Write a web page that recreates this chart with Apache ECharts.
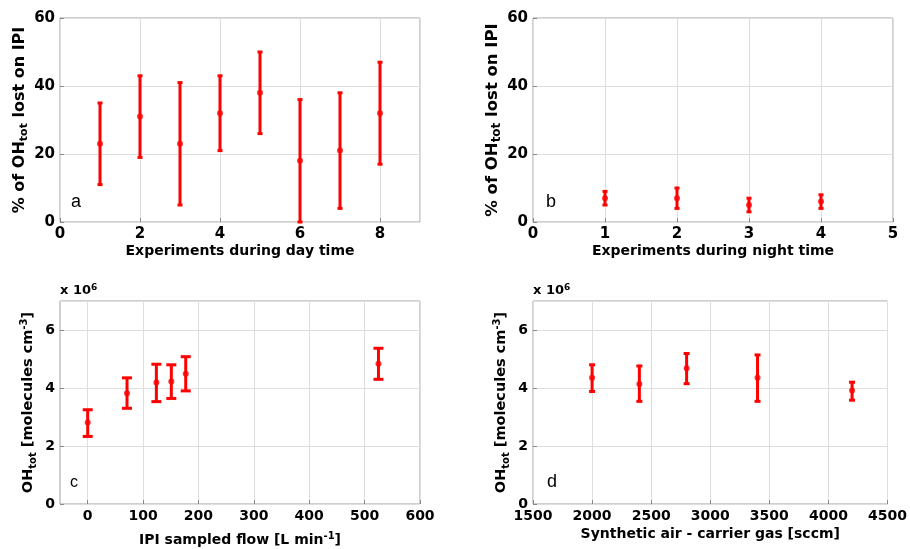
<!DOCTYPE html>
<html>
<head>
<meta charset="utf-8">
<script src="https://cdn.jsdelivr.net/npm/echarts@6/dist/echarts.min.js"></script>
<style>
  html, body { margin: 0; padding: 0; background: #fff; }
  #chart { width: 910px; height: 549px; }
</style>
</head>
<body>
<div id="chart"></div>
<script>
    'use strict';
    // panel a - day time experiments (% lost on IPI)
    var dayExp = [1, 2, 3, 4, 5, 6, 7, 8];
    var dayMean = [23, 31, 23, 32, 38, 18, 21, 32];
    var dayLow = [11, 19, 5, 21, 26, 0, 4, 17];
    var dayHigh = [35, 43, 41, 43, 50, 36, 38, 47];

    // panel b - night time experiments
    var nightExp = [1, 2, 3, 4];
    var nightMean = [7, 7, 5, 6];
    var nightLow = [5, 4, 3, 4];
    var nightHigh = [9, 10, 7, 8];

    // panel c - IPI sampled flow vs OHtot (x 10^6)
    var flowX = [0, 71, 124, 151, 177, 525];
    var flowMean = [2.81, 3.82, 4.19, 4.22, 4.49, 4.84];
    var flowLow = [2.33, 3.30, 3.53, 3.64, 3.90, 4.30];
    var flowHigh = [3.25, 4.35, 4.82, 4.80, 5.08, 5.37];

    // panel d - synthetic air carrier gas vs OHtot (x 10^6)
    var gasX = [2000, 2400, 2800, 3400, 4200];
    var gasMean = [4.35, 4.14, 4.68, 4.35, 3.91];
    var gasLow = [3.88, 3.54, 4.15, 3.54, 3.58];
    var gasHigh = [4.80, 4.76, 5.19, 5.14, 4.20];

    var flowTicks = [0, 100, 200, 300, 400, 500, 600];

    var RED = '#ff0000';
    var FONT = '"DejaVu Sans", Verdana, sans-serif';

    function zip(a, b, c) {
        return a.map(function (v, i) { return c ? [v, b[i], c[i]] : [v, b[i]]; });
    }

    function errorBars(capHalf, lw) {
        return function (params, api) {
            var x = api.value(0);
            var lo = api.coord([x, api.value(1)]);
            var hi = api.coord([x, api.value(2)]);
            var st = {stroke: RED, lineWidth: lw};
            return {
                type: 'group',
                children: [
                    {type: 'line', shape: {x1: lo[0], y1: lo[1], x2: hi[0], y2: hi[1]}, style: st},
                    {type: 'line', shape: {x1: hi[0] - capHalf, y1: hi[1], x2: hi[0] + capHalf, y2: hi[1]}, style: st},
                    {type: 'line', shape: {x1: lo[0] - capHalf, y1: lo[1], x2: lo[0] + capHalf, y2: lo[1]}, style: st}
                ]
            };
        };
    }

    function labels(size, extra) {
        return Object.assign({
            color: '#000', fontSize: size, fontWeight: 'bold', fontFamily: FONT, margin: 5,
            formatter: function (v) { return String(v); }
        }, extra || {});
    }
    function names(size) {
        var small = Math.round(size * 0.7);
        return {
            color: '#000', fontSize: size, fontWeight: 'bold', fontFamily: FONT,
            rich: {
                sub: {fontSize: small, fontWeight: 'bold', fontFamily: FONT, color: '#000', verticalAlign: 'bottom', padding: [9, 0, 0, 0]},
                sup: {fontSize: small, fontWeight: 'bold', fontFamily: FONT, color: '#000', verticalAlign: 'top', padding: [0, 0, 9, 0]}
            }
        };
    }
    var gridLine = {show: true, lineStyle: {color: '#dedede', width: 1}};
    var tick = {show: true, inside: true, length: 4, lineStyle: {color: '#888'}};
    var noLine = {show: false, onZero: false};

    function axis(idx, min, max, interval, name, gap, labelSize, nameSize, extra) {
        var ax = {
            gridIndex: idx, type: 'value', min: min, max: max, interval: interval,
            name: name, nameLocation: 'middle', nameGap: gap, nameTextStyle: names(nameSize),
            axisLine: noLine, axisTick: tick, splitLine: gridLine,
            axisLabel: labels(labelSize)
        };
        return Object.assign(ax, extra || {});
    }

    var grids = [
        {left: 60, top: 18, width: 360, height: 204},
        {left: 533, top: 18, width: 360, height: 204},
        {left: 60, top: 301, width: 360, height: 203},
        {left: 533, top: 301, width: 360, height: 203}
    ].map(function (g) {
        return Object.assign(g, {show: true, borderColor: '#a0a0a0', borderWidth: 1, backgroundColor: '#fff'});
    });

    var ohName = 'OH{sub|tot} [molecules cm{sup|-3}]';
    var pctName = '% of OH{sub|tot} lost on IPI';
    var exp6 = {
        text: 'x 10{sup|6}', font: 'bold 13px ' + FONT, fill: '#000',
        rich: {sup: {fontSize: 9, fontWeight: 'bold', fontFamily: FONT, verticalAlign: 'top', padding: [0, 0, 7, 0]}}
    };
    var letterFont = '"Liberation Sans", Arial, sans-serif';

    var option = {
        animation: false,
        backgroundColor: '#fff',
        grid: grids,
        xAxis: [
            axis(0, 0, 9, 2, 'Experiments during day time', 22, 15, 14, {axisLabel: labels(15, {showMaxLabel: false})}),
            axis(1, 0, 5, 1, 'Experiments during night time', 22, 15, 14),
            axis(2, -50, 600, null, 'IPI sampled flow [L min{sup|-1}]', 27, 14, 14, {
                axisTick: Object.assign({}, tick, {customValues: flowTicks}),
                axisLabel: labels(14, {customValues: flowTicks})
            }),
            axis(3, 1500, 4500, 500, 'Synthetic air - carrier gas [sccm]', 23, 14, 14)
        ],
        yAxis: [
            axis(0, 0, 60, 20, pctName, 30, 15, 16),
            axis(1, 0, 60, 20, pctName, 30, 15, 16.5),
            axis(2, 0, 7, 2, ohName, 22, 14, 14.5, {axisLabel: labels(14, {showMaxLabel: false})}),
            axis(3, 0, 7, 2, ohName, 22, 14, 14.5, {axisLabel: labels(14, {showMaxLabel: false})})
        ],
        graphic: [
            {type: 'text', left: 60, top: 283, style: Object.assign({}, exp6)},
            {type: 'text', left: 533, top: 283, style: Object.assign({}, exp6)},
            {type: 'text', style: {x: 71, y: 202, text: 'a', font: '18px ' + letterFont, fill: '#000', verticalAlign: 'middle'}},
            {type: 'text', style: {x: 546, y: 202, text: 'b', font: '18px ' + letterFont, fill: '#000', verticalAlign: 'middle'}},
            {type: 'text', style: {x: 70, y: 483, text: 'c', font: '16px ' + letterFont, fill: '#000', verticalAlign: 'middle'}},
            {type: 'text', style: {x: 547, y: 482, text: 'd', font: '18px ' + letterFont, fill: '#000', verticalAlign: 'middle'}}
        ],
        series: [
            {type: 'custom', xAxisIndex: 0, yAxisIndex: 0, renderItem: errorBars(2.5, 3), data: zip(dayExp, dayLow, dayHigh), z: 2},
            {type: 'custom', xAxisIndex: 1, yAxisIndex: 1, renderItem: errorBars(2.5, 3), data: zip(nightExp, nightLow, nightHigh), z: 2},
            {type: 'custom', xAxisIndex: 2, yAxisIndex: 2, renderItem: errorBars(5, 3), data: zip(flowX, flowLow, flowHigh), z: 2},
            {type: 'custom', xAxisIndex: 3, yAxisIndex: 3, renderItem: errorBars(3, 3), data: zip(gasX, gasLow, gasHigh), z: 2},
            {type: 'scatter', xAxisIndex: 0, yAxisIndex: 0, symbol: 'circle', symbolSize: 6, itemStyle: {color: RED}, data: zip(dayExp, dayMean), z: 3},
            {type: 'scatter', xAxisIndex: 1, yAxisIndex: 1, symbol: 'circle', symbolSize: 6, itemStyle: {color: RED}, data: zip(nightExp, nightMean), z: 3},
            {type: 'scatter', xAxisIndex: 2, yAxisIndex: 2, symbol: 'circle', symbolSize: 6, itemStyle: {color: RED}, data: zip(flowX, flowMean), z: 3},
            {type: 'scatter', xAxisIndex: 3, yAxisIndex: 3, symbol: 'circle', symbolSize: 6, itemStyle: {color: RED}, data: zip(gasX, gasMean), z: 3}
        ]
    };

    var chart = echarts.init(document.getElementById('chart'));
    chart.setOption(option);
</script>
</body>
</html>
